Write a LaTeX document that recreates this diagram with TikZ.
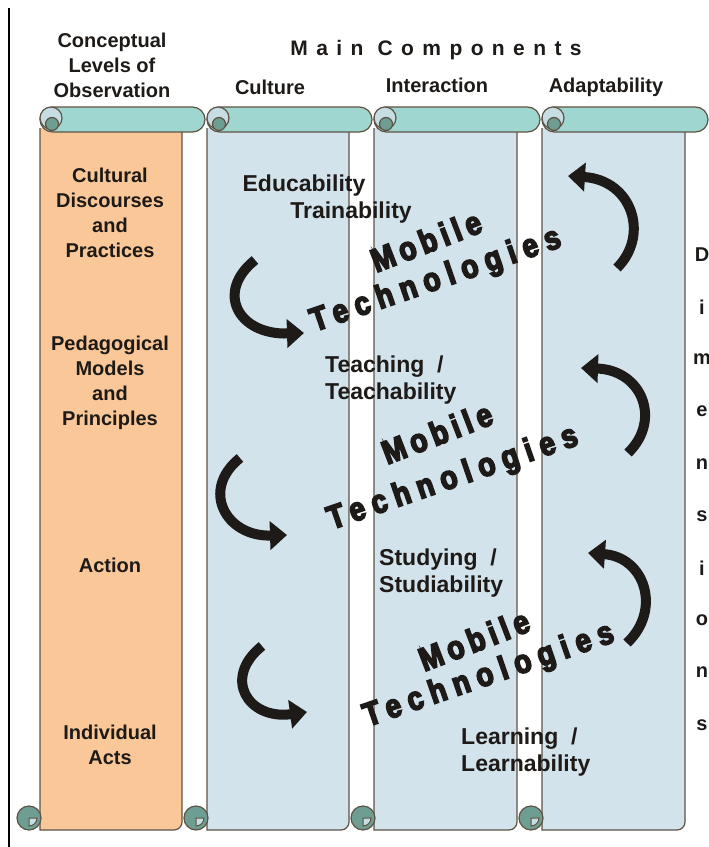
\documentclass[tikz,border=0pt]{standalone}
\usepackage{fontspec}
\setmainfont{Liberation Sans}
\newfontfamily\spacedfont[LetterSpace=40]{Liberation Sans}
\newfontfamily\mobfont[FakeBold=5,FakeStretch=0.85]{Liberation Sans}
\usepackage{tikz}
\usetikzlibrary{arrows.meta}

\definecolor{peach}{HTML}{FAC898}
\definecolor{paleblue}{HTML}{D2E3EC}
\definecolor{barteal}{HTML}{9FD6CF}
\definecolor{curldark}{HTML}{6E9E92}
\definecolor{curllight}{HTML}{C6DDE4}
\definecolor{rim}{HTML}{5E5244}
\definecolor{ink}{HTML}{1E1A17}

\tikzset{
  lvl/.style={font=\bfseries\fontsize{20}{25}\selectfont, align=center, text=ink, inner sep=0pt},
  comp/.style={font=\bfseries\fontsize{20}{24}\selectfont, text=ink, inner sep=0pt},
  stage/.style={font=\bfseries\fontsize{23}{27}\selectfont, align=left, text=ink, inner sep=0pt},
  mob/.style={font=\mobfont\bfseries\fontsize{33}{33}\selectfont, text=ink, inner sep=0pt},
  twist/.style={ink, line width=10pt, -{Triangle[width=28pt,length=17pt]}},
}

% one hanging scroll: left edge, right end of the roller, paper colour
\newcommand{\scrollpage}[3]{
  \filldraw[fill=#3, draw=rim, line width=1.2pt] (#1,128) -- (#1,830)
    [rounded corners=8pt] -- ({#2-23},830) -- ({#2-23},128);
  \filldraw[fill=barteal, draw=rim, line width=1.2pt, rounded corners=12.5pt]
    (#1,107) rectangle (#2,132);
  \filldraw[fill=curllight, draw=rim, line width=1.2pt] ({#1+11},118) circle (11pt);
  \filldraw[fill=curldark, draw=rim, line width=1.2pt] ({#1+12},124) circle (6.5pt);
  \filldraw[fill=curldark, draw=rim, line width=1.2pt] ({#1-11},818) circle (12pt);
  \filldraw[fill=curllight, draw=rim, line width=1pt] ({#1-11},818) -- ++(8pt,0)
    arc[start angle=0, end angle=-90, radius=8pt] -- cycle;
}

\begin{document}
\begin{tikzpicture}[x=1pt, y=-1pt]
  \useasboundingbox (0,0) rectangle (709,847);
  \clip (0,0) rectangle (709,847);
  \draw[line width=1.5pt] (9,8) -- (9,847);

  % the four scrolls
  \scrollpage{40}{205}{peach}
  \scrollpage{207}{372}{paleblue}
  \scrollpage{374}{540}{paleblue}
  \scrollpage{542}{708}{paleblue}

  % turning arrows
  \draw[twist] (255,260) .. controls (215,292) and (238,335) .. (304,333);
  \draw[twist] (617,268) .. controls (650,235) and (632,180) .. (568,176);
  \draw[twist] (240,458) .. controls (200,490) and (226,537) .. (287,535);
  \draw[twist] (628,453) .. controls (662,420) and (642,370) .. (581,368);
  \draw[twist] (262,646) .. controls (222,678) and (248,720) .. (307,712);
  \draw[twist] (627,643) .. controls (662,610) and (645,557) .. (588,553);

  % headings
  \node[lvl] (levels) at (112,65) {Conceptual\\Levels of\\Observation};
  \node[comp, font=\spacedfont\bfseries\fontsize{21}{24}\selectfont] (main) at (436,50) {Main Components};
  \node[comp] (culture) at (270,87) {Culture};
  \node[comp] (interaction) at (437,85) {Interaction};
  \node[comp] (adapt) at (606,87) {Adaptability};

  % conceptual levels
  \node[lvl] (cultural) at (110,213) {Cultural\\Discourses\\and\\Practices};
  \node[lvl] (pedagogical) at (110,383) {Pedagogical\\Models\\and\\Principles};
  \node[lvl] (action) at (110,565) {Action};
  \node[lvl] (individual) at (110,745) {Individual\\Acts};

  % components along the scrolls
  \node[stage] (educ) at (304,186) {Educability};
  \node[stage] (train) at (351,213) {Trainability};
  \node[stage, anchor=west] (teach) at (325,380) {Teaching \ /\\Teachability};
  \node[stage, anchor=west] (study) at (379,573) {Studying \ /\\Studiability};
  \node[stage, anchor=west] (learn) at (461,752) {Learning \ /\\Learnability};

  \node[mob, rotate=21] (mobA) at (426,241) {\addfontfeature{LetterSpace=16}Mobile};
  \node[mob, rotate=19] (techA) at (436,281) {\addfontfeature{LetterSpace=23}Technologies};
  \node[mob, rotate=21] (mobB) at (437,433) {\addfontfeature{LetterSpace=16}Mobile};
  \node[mob, rotate=19] (techB) at (453,479) {\addfontfeature{LetterSpace=23}Technologies};
  \node[mob, rotate=21] (mobC) at (474,640) {\addfontfeature{LetterSpace=16}Mobile};
  \node[mob, rotate=19] (techC) at (489,676) {\addfontfeature{LetterSpace=23}Technologies};

  % dimensions, letter by letter down the right edge
  \foreach \ch [count=\k from 0] in {D,i,m,e,n,s,i,o,n,s}
    \node[comp] (dim\k) at (702,{255+52.2*\k}) {\ch};
\end{tikzpicture}
\end{document}
